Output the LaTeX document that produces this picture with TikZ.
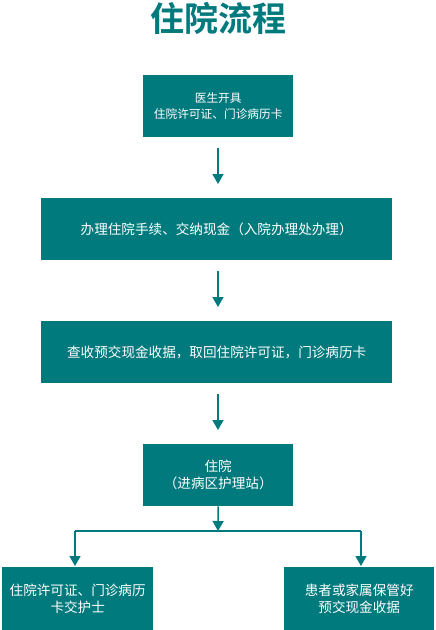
\documentclass[tikz,border=0pt]{standalone}
\usepackage{fontspec}
\newfontfamily\cjk{Noto Sans CJK SC}
\newfontfamily\cjkbold{Noto Sans CJK SC Bold}
\usetikzlibrary{arrows.meta}
\definecolor{teal1}{RGB}{0,122,124}
\tikzset{
  box/.style={draw=none, fill=teal1, text=white, font=\cjk\fontsize{13.6}{17}\selectfont, align=center, inner sep=0pt, anchor=north west},
  conn/.style={draw=teal1, line width=1.4pt, -{Triangle[width=11pt,length=10pt]}},
  plain/.style={draw=teal1, line width=1.4pt}
}
\begin{document}
\begin{tikzpicture}[x=1pt,y=-1pt]
\useasboundingbox (0,0) rectangle (436,630);
\node[font=\cjkbold\fontsize{34}{38}\selectfont, text=teal1] (title) at (218,18) {住院流程};
\node[box, minimum width=150pt, minimum height=62pt, font=\cjk\fontsize{11.7}{16}\selectfont] (b1) at (143,75) {医生开具\\住院许可证、门诊病历卡};
\node[box, minimum width=351pt, minimum height=62pt] (b2) at (41,198) {办理住院手续、交纳现金（入院办理处办理）};
\node[box, minimum width=351pt, minimum height=62pt] (b3) at (41,321) {查收预交现金收据，取回住院许可证，门诊病历卡};
\node[box, minimum width=150pt, minimum height=62pt] (b4) at (143,444) {住院\\（进病区护理站）};
\node[box, minimum width=151pt, minimum height=63pt] (b5) at (2,567) {住院许可证、门诊病历\\卡交护士};
\node[box, minimum width=150pt, minimum height=63pt] (b6) at (284,567) {患者或家属保管好\\预交现金收据};
\coordinate (a1s) at (218,148); \coordinate (a1e) at (218,184);
\coordinate (a2s) at (218,271); \coordinate (a2e) at (218,307);
\coordinate (a3s) at (218,394); \coordinate (a3e) at (218,430);
\coordinate (j) at (218,531);
\coordinate (l) at (75,531); \coordinate (r) at (361,531);
\coordinate (le) at (75,566); \coordinate (re) at (361,566);
\draw[conn] (a1s) -- (a1e);
\draw[conn] (a2s) -- (a2e);
\draw[conn] (a3s) -- (a3e);
\draw[conn] (b4.south) -- (j);
\draw[plain] (l) -- (r);
\draw[conn] (l) -- (le);
\draw[conn] (r) -- (re);
\end{tikzpicture}
\end{document}
